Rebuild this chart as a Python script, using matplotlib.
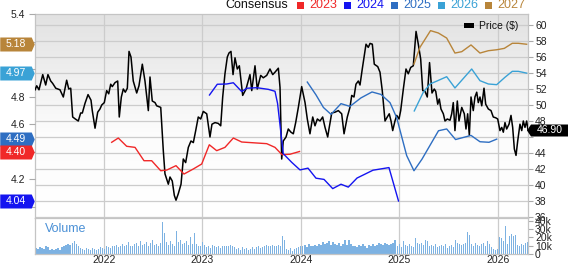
import numpy as np
import matplotlib
matplotlib.use("Agg")
import matplotlib.pyplot as plt
import matplotlib.transforms as mtransforms
from matplotlib.path import Path
from matplotlib.patches import Rectangle
from matplotlib.colors import LinearSegmentedColormap

plt.rcParams['font.family'] = ['Liberation Sans', 'DejaVu Sans']

# ---------------- data ----------------
price_dates = [
    2021.300, 2021.317, 2021.340, 2021.378, 2021.408, 2021.431, 2021.459, 2021.479, 2021.510, 2021.553,
    2021.587, 2021.621, 2021.642, 2021.662, 2021.682, 2021.709, 2021.739, 2021.763, 2021.780, 2021.807,
    2021.838, 2021.868, 2021.881, 2021.909, 2021.936, 2021.959, 2021.977, 2022.003, 2022.027, 2022.048,
    2022.068, 2022.084, 2022.112, 2022.139, 2022.155, 2022.176, 2022.196, 2022.216, 2022.237, 2022.254,
    2022.274, 2022.297, 2022.332, 2022.355, 2022.389, 2022.416, 2022.450, 2022.467, 2022.490, 2022.518,
    2022.535, 2022.576, 2022.602, 2022.619, 2022.653, 2022.670, 2022.693, 2022.714, 2022.731, 2022.754,
    2022.782, 2022.805, 2022.829, 2022.856, 2022.883, 2022.907, 2022.931, 2022.957, 2022.982, 2023.008,
    2023.043, 2023.076, 2023.096, 2023.127, 2023.160, 2023.185, 2023.205, 2023.228, 2023.252, 2023.269,
    2023.289, 2023.310, 2023.330, 2023.353, 2023.374, 2023.408, 2023.442, 2023.482, 2023.500, 2023.533,
    2023.556, 2023.591, 2023.617, 2023.652, 2023.685, 2023.713, 2023.736, 2023.770, 2023.787, 2023.804,
    2023.820, 2023.848, 2023.871, 2023.898, 2023.922, 2023.946, 2023.973, 2024.007, 2024.041, 2024.064,
    2024.091, 2024.119, 2024.142, 2024.166, 2024.193, 2024.220, 2024.244, 2024.271, 2024.284, 2024.312,
    2024.345, 2024.379, 2024.413, 2024.437, 2024.470, 2024.497, 2024.515, 2024.538, 2024.558, 2024.582,
    2024.599, 2024.622, 2024.643, 2024.660, 2024.683, 2024.701, 2024.724, 2024.744, 2024.779, 2024.802,
    2024.825, 2024.853, 2024.876, 2024.896, 2024.914, 2024.931, 2024.954, 2024.972, 2024.995, 2025.012,
    2025.039, 2025.066, 2025.089, 2025.114, 2025.140, 2025.168, 2025.191, 2025.215, 2025.236, 2025.259,
    2025.282, 2025.305, 2025.330, 2025.353, 2025.368, 2025.388, 2025.404, 2025.421, 2025.445, 2025.462,
    2025.485, 2025.513, 2025.530, 2025.546, 2025.563, 2025.587, 2025.604, 2025.632, 2025.658, 2025.675,
    2025.692, 2025.709, 2025.726, 2025.749, 2025.766, 2025.784, 2025.800, 2025.817, 2025.835, 2025.858,
    2025.875, 2025.902, 2025.929, 2025.952, 2025.977, 2025.997, 2026.020, 2026.038, 2026.054, 2026.071,
    2026.088, 2026.112, 2026.132, 2026.149, 2026.166, 2026.183, 2026.200, 2026.223, 2026.241, 2026.257,
    2026.274, 2026.291, 2026.304,
]
price = [
    51.9, 52.4, 51.9, 53.8, 52.5, 53.8, 53.0, 52.7, 52.1, 51.9,
    51.0, 53.1, 52.0, 52.1, 48.5, 48.25, 48.0, 49.0, 49.0, 50.2,
    51.3, 50.6, 49.3, 47.1, 49.1, 49.5, 50.0, 50.3, 51.8, 51.4,
    52.6, 52.3, 52.8, 53.0, 48.5, 51.0, 52.0, 51.6, 52.1, 56.7,
    56.0, 53.0, 51.5, 52.4, 55.1, 53.0, 49.3, 53.5, 50.5, 50.3,
    49.9, 49.7, 44.3, 41.4, 40.1, 41.0, 40.5, 38.7, 38.1, 38.9,
    40.1, 43.25, 42.8, 44.7, 45.5, 45.3, 46.8, 48.5, 48.25, 49.2,
    48.9, 46.0, 47.6, 47.8, 47.7, 47.4, 51.0, 53.9, 56.0, 56.5,
    56.7, 53.8, 55.9, 54.5, 54.9, 51.2, 52.0, 53.8, 51.8, 54.9,
    52.0, 53.7, 53.4, 53.7, 54.5, 53.8, 54.1, 54.6, 52.2, 43.25,
    45.5, 46.0, 47.0, 46.6, 46.4, 47.8, 49.7, 52.3, 50.3, 48.25,
    46.4, 48.5, 47.4, 48.25, 48.0, 48.5, 47.2, 46.0, 47.0, 49.0,
    49.1, 49.3, 48.9, 46.4, 48.5, 49.7, 51.2, 51.0, 52.6, 53.0,
    52.5, 54.5, 56.2, 57.6, 57.2, 57.7, 57.6, 55.1, 54.8, 54.1,
    51.8, 48.0, 48.5, 48.9, 48.0, 46.8, 48.0, 48.7, 48.25, 49.3,
    52.0, 54.5, 53.9, 54.7, 54.9, 59.2, 57.6, 55.75, 51.8, 51.7,
    51.0, 55.3, 51.5, 52.0, 51.7, 50.1, 50.75, 49.5, 48.9, 48.0,
    48.25, 48.1, 48.9, 50.3, 46.8, 50.5, 48.0, 49.7, 48.9, 47.0,
    48.9, 46.2, 51.0, 49.3, 51.0, 51.6, 50.3, 51.0, 49.9, 52.1,
    50.1, 49.5, 49.3, 48.5, 48.4, 48.25, 46.8, 47.2, 46.6, 47.8,
    47.0, 47.6, 48.7, 47.2, 44.5, 43.7, 45.5, 47.6, 46.8, 48.0,
    47.2, 48.0, 46.90,
]

eps2023_dates = [2022.078, 2022.145, 2022.230, 2022.315, 2022.406, 2022.484, 2022.576, 2022.637,
                 2022.731, 2022.812, 2022.907, 2022.992, 2023.069, 2023.144, 2023.228, 2023.313,
                 2023.398, 2023.652, 2023.736, 2023.807, 2023.888, 2023.985]
eps2023 = [4.467, 4.498, 4.438, 4.43, 4.333, 4.333, 4.26, 4.265, 4.297, 4.236, 4.273, 4.309,
           4.449, 4.406, 4.43, 4.498, 4.469, 4.457, 4.43, 4.377, 4.38, 4.40]

eps2024_dates = [2023.071, 2023.150, 2023.246, 2023.313, 2023.398, 2023.449, 2023.551, 2023.668,
                 2023.736, 2023.762, 2023.820, 2023.906, 2023.990, 2024.071, 2024.152, 2024.234,
                 2024.322, 2024.406, 2024.480, 2024.569, 2024.731, 2024.893, 2024.990]
eps2024 = [4.811, 4.889, 4.891, 4.90, 4.836, 4.86, 4.864, 4.852, 4.838, 4.75, 4.384, 4.321,
           4.266, 4.279, 4.206, 4.197, 4.13, 4.162, 4.141, 4.207, 4.264, 4.283, 4.04]

eps2025_dates = [2024.064, 2024.152, 2024.228, 2024.305, 2024.406, 2024.497, 2024.609, 2024.721,
                 2024.812, 2024.904, 2024.972, 2025.073, 2025.147, 2025.228, 2025.396, 2025.479,
                 2025.569, 2025.726, 2025.817, 2025.909, 2025.987]
eps2025 = [4.905, 4.812, 4.72, 4.67, 4.748, 4.728, 4.79, 4.833, 4.815, 4.755, 4.645, 4.37,
           4.26, 4.344, 4.551, 4.564, 4.487, 4.517, 4.471, 4.467, 4.49]

eps2026_dates = [2025.150, 2025.241, 2025.310, 2025.388, 2025.479, 2025.563, 2025.733, 2025.817,
                 2025.902, 2025.987, 2026.071, 2026.145, 2026.206, 2026.291]
eps2026 = [4.695, 4.83, 4.891, 4.915, 4.944, 4.862, 5.0, 4.915, 4.891, 4.886, 4.94, 4.983,
           4.983, 4.97]

eps2027_dates = [2025.147, 2025.208, 2025.315, 2025.394, 2025.479, 2025.563, 2025.632, 2025.726,
                 2025.817, 2025.902, 2025.987, 2026.064, 2026.145, 2026.206, 2026.291]
eps2027 = [5.036, 5.158, 5.279, 5.262, 5.225, 5.116, 5.126, 5.175, 5.116, 5.133, 5.14, 5.15,
           5.187, 5.187, 5.18]

volume_k = [
    7, 6, 8, 7, 6, 9, 8, 5, 6, 5,
    6, 7, 5, 8, 10, 11, 12, 11, 13, 15,
    12, 10, 7, 6, 5, 7, 6, 5, 7, 6,
    5, 6, 8, 7, 6, 9, 8, 7, 10, 9,
    11, 8, 10, 12, 9, 11, 14, 10, 9, 12,
    13, 10, 15, 11, 12, 14, 10, 13, 17, 11,
    12, 10, 13, 38, 25, 14, 11, 15, 12, 10,
    27, 14, 17, 12, 13, 15, 11, 20, 12, 25,
    12, 10, 9, 14, 11, 8, 10, 7, 11, 9,
    8, 10, 7, 9, 10, 9, 10, 11, 10, 8,
    6, 7, 5, 8, 6, 7, 5, 6, 8, 6,
    8, 9, 7, 8, 10, 11, 10, 9, 11, 10,
    9, 11, 10, 21, 17, 6, 5, 7, 4, 6,
    7, 8, 10, 9, 11, 8, 12, 10, 9, 11,
    10, 12, 11, 14, 12, 13, 15, 11, 14, 12,
    11, 13, 10, 12, 17, 11, 17, 12, 9, 10,
    8, 11, 9, 12, 10, 7, 11, 9, 12, 10,
    11, 13, 12, 11, 13, 12, 11, 12, 13, 17,
    10, 12, 8, 15, 11, 9, 12, 10, 8, 19,
    13, 12, 13, 11, 17, 16, 10, 11, 9, 12,
    8, 10, 11, 9, 12, 7, 10, 11, 8, 17,
    13, 12, 11, 12, 13, 26, 23, 12, 10, 13,
    11, 9, 12, 13, 10, 15, 12, 8, 6, 5,
    6, 20, 19, 16, 33, 12, 22, 24, 21, 23,
    11, 10, 12, 11, 13, 14,
]
volume_start, volume_end = 2021.31, 2026.30

year_ticks = [2022, 2023, 2024, 2025, 2026]
price_ticks = [36, 38, 40, 42, 44, 46, 48, 50, 52, 54, 56, 58, 60]
price_tick_labels = ['36', '38', '40', '42', '44', '', '48', '50', '52', '54', '56', '58', '60']
eps_ticks = [4.0, 4.2, 4.4, 4.6, 4.8, 5.0, 5.2, 5.4]
eps_tick_labels = ['', '4.2', '', '4.6', '4.8', '', '', '5.4']   # others hidden under tags
vol_ticks = [0, 10, 20, 30, 40]
vol_labels = ['0', '10k', '20k', '30k', '40k']
legend_years = ['2023', '2024', '2025', '2026', '2027']

# ---------------- styles ----------------
C23, C24, C25, C26, C27 = '#f02828', '#1414f0', '#2e6ec2', '#3aa2d6', '#b8853a'
GRID = '#cccccc'
W, H = 568, 264
L, R, T, MB, VB = 35, 528, 14, 218, 254
XLIM = (2021.2995, 2026.3046)
FS = 7.5

fig = plt.figure(figsize=(W / 100, H / 100), dpi=100)
axp = fig.add_axes([L / W, 1 - MB / H, (R - L) / W, (MB - T) / H])
axv = fig.add_axes([L / W, 1 - VB / H, (R - L) / W, (VB - MB) / H])
axe = axp.twinx()

# background gradient
grad = np.linspace(0, 1, 256).reshape(-1, 1)
cmap = LinearSegmentedColormap.from_list('bg', [(0, '#ffffff'), (0.42, '#fcfcfc'), (1, '#e2e2e2')])
axp.imshow(grad, extent=[0, 1, 0, 1], transform=axp.transAxes, origin='lower',
           aspect='auto', cmap=cmap, zorder=-2)

# price
axp.plot(price_dates, price, color='black', lw=1.1, zorder=3)
axp.set_xlim(*XLIM)
axp.set_ylim(35.875, 61.375)
axp.set_xticks(year_ticks)
axp.set_yticks(price_ticks)
axp.set_yticklabels(price_tick_labels)
axp.yaxis.set_ticks_position('right')
axp.tick_params(axis='y', length=3.6, width=0.8, color='#aaaaaa', pad=1.5, labelsize=FS,
                labelcolor='#222222')
axp.tick_params(axis='x', length=0, labelbottom=False)
axp.grid(True, color=GRID, lw=0.9)
axp.set_axisbelow(True)
for s in axp.spines.values():
    s.set_color('#c4c4c4')
    s.set_linewidth(0.9)

# consensus lines
for d, v, c in [(eps2023_dates, eps2023, C23), (eps2024_dates, eps2024, C24),
                (eps2025_dates, eps2025, C25), (eps2026_dates, eps2026, C26),
                (eps2027_dates, eps2027, C27)]:
    axe.plot(d, v, color=c, lw=1.0, zorder=2)
axe.set_xlim(*XLIM)
axe.set_ylim(5.4 - (MB - T) / 137.5, 5.4)
axe.set_yticks(eps_ticks)
axe.set_yticklabels(eps_tick_labels)
axe.yaxis.set_ticks_position('left')
axe.tick_params(axis='y', length=4.3, width=0.8, color='#aaaaaa', pad=2.9, labelsize=FS,
                labelcolor='#222222')
for s in axe.spines.values():
    s.set_visible(False)

# left value tags
tag_l = Path([(-17.25, -7), (14.25, -7), (17.25, 0), (14.25, 7), (-17.25, 7), (-17.25, -7)],
             [Path.MOVETO] + [Path.LINETO] * 4 + [Path.CLOSEPOLY])
bl = mtransforms.blended_transform_factory(axe.transAxes, axe.transData)
xc = (17.25 - L) / (R - L)
xt = (15.75 - L) / (R - L)
for val, c in [(eps2027[-1], C27), (eps2026[-1], C26), (eps2025[-1], C25),
               (eps2023[-1], C23), (eps2024[-1], C24)]:
    axe.plot([xc], [val], marker=tag_l, ms=34.5 * 0.72, color=c, mec='none', ls='none',
             transform=bl, clip_on=False, zorder=10)
    axe.text(xt, val, '%.2f' % val, color='white', fontsize=FS, ha='center', va='center',
             transform=bl, clip_on=False, zorder=11)

# right price tag
tag_r = Path([(-20.5, 0), (-16.5, 6), (20.5, 6), (20.5, -6), (-16.5, -6), (-20.5, 0)],
             [Path.MOVETO] + [Path.LINETO] * 4 + [Path.CLOSEPOLY])
br = mtransforms.blended_transform_factory(axp.transAxes, axp.transData)
axp.plot([(547.2 - L) / (R - L)], [price[-1]], marker=tag_r, ms=41 * 0.72, color='black',
         mec='none', ls='none', transform=br, clip_on=False, zorder=10)
axp.text((549.5 - L) / (R - L), price[-1], '%.2f' % price[-1], color='white', fontsize=FS,
         ha='center', va='center', transform=br, clip_on=False, zorder=11)

# volume
vol_dates = np.linspace(volume_start, volume_end, len(volume_k))
axv.bar(vol_dates, volume_k, width=0.013, color='#7db2e2', lw=0, zorder=2)
axv.set_xlim(*XLIM)
axv.set_ylim(0, 43)
axv.set_xticks(year_ticks)
axv.set_xticklabels([str(y) for y in year_ticks])
axv.set_yticks(vol_ticks)
axv.set_yticklabels(vol_labels)
axv.yaxis.set_ticks_position('right')
axv.tick_params(axis='y', length=3.6, width=0.8, color='#aaaaaa', pad=1.5, labelsize=FS,
                labelcolor='#222222')
axv.tick_params(axis='x', length=0, pad=0.8, labelsize=FS, labelcolor='#222222')
axv.grid(True, axis='x', color=GRID, lw=0.9)
axv.set_axisbelow(True)
for s in axv.spines.values():
    s.set_color('#c4c4c4')
    s.set_linewidth(0.9)
axv.text((45 - L) / (R - L), 0.69, 'Volume', transform=axv.transAxes, color='#4a90d6',
         fontsize=9, va='center', ha='left')

# top legend
fig.text(225 / W, 1 - 5.5 / H, 'Consensus', fontsize=9, va='center', ha='left', color='#111111')
for i, (lab, c) in enumerate(zip(legend_years, [C23, C24, C25, C26, C27])):
    sx = 297 + 47 * i
    fig.add_artist(Rectangle((sx / W, 1 - 9 / H), 7 / W, 7 / H, color=c, lw=0,
                             transform=fig.transFigure))
    fig.text((sx + 12.5) / W, 1 - 5.5 / H, lab, fontsize=9, va='center', ha='left', color=c)

# price legend
fig.add_artist(Rectangle((464 / W, 1 - 28 / H), 10 / W, 5 / H, color='black', lw=0,
                         transform=fig.transFigure))
fig.text(479 / W, 1 - 26 / H, 'Price ($)', fontsize=FS, va='center', ha='left', color='#111111')

fig.savefig('out.png', dpi=100)
